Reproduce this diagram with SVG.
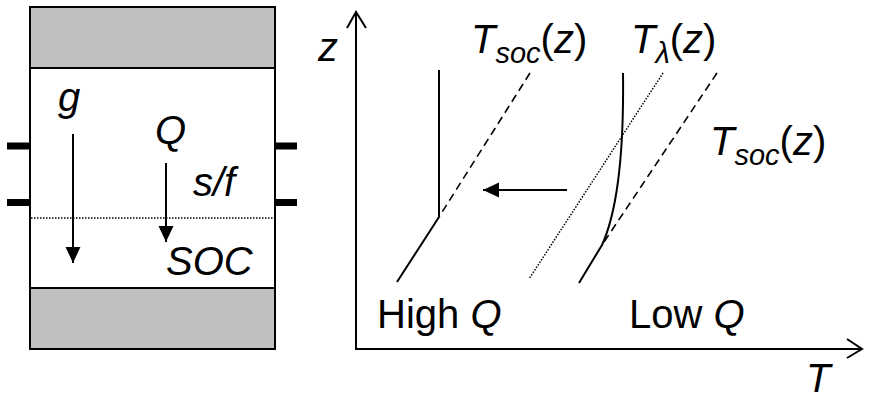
<svg xmlns="http://www.w3.org/2000/svg" width="869" height="401" viewBox="0 0 869 401">
<defs>
<style>
text{font-family:"Liberation Sans",Arial,sans-serif;font-size:40px;fill:#000}
.it{font-style:italic}
.sub{font-size:29px;font-style:italic}
.ln{stroke:#000;stroke-width:2;fill:none}
.dash{stroke:#000;stroke-width:1.6;fill:none;stroke-dasharray:8,5}
.dot{stroke:#000;stroke-width:1.5;fill:none;stroke-dasharray:1.5,1.5}
.band{fill:#c0c0c0;stroke:#000;stroke-width:2}
.tab{fill:#000}
</style>
<marker id="ah" markerWidth="16" markerHeight="16" viewBox="0 0 15 14" refX="15" refY="7" orient="auto" markerUnits="userSpaceOnUse">
<path d="M0,0 L15,7 L0,14 z" fill="#000"/>
</marker>
</defs>
<g id="box">
<rect x="30" y="7" width="245" height="342" fill="#fff" stroke="#000" stroke-width="2"/>
<rect class="band" x="30" y="7" width="245" height="61"/>
<rect class="band" x="30" y="288" width="245" height="61"/>
<rect class="tab" x="7" y="142.5" width="23" height="7"/>
<rect class="tab" x="7" y="199" width="23" height="7"/>
<rect class="tab" x="275" y="142.5" width="22" height="7"/>
<rect class="tab" x="275" y="199" width="22" height="7"/>
<line class="dot" x1="31" y1="218" x2="274" y2="218" stroke-width="1.2"/>
</g>
<g id="labels-box">
<text class="it" x="58" y="111">g</text>
<text class="it" x="155" y="144">Q</text>
<text class="it" x="193" y="196">s/f</text>
<text class="it" x="166" y="275">SOC</text>
</g>
<g id="axes">
<line class="ln" x1="356" y1="349" x2="356" y2="13"/>
<polyline class="ln" points="347,28 356,12 366,28"/>
<line class="ln" x1="355" y1="349" x2="861" y2="349"/>
<polyline class="ln" points="847,339 862,349 847,358"/>
<text class="it" x="318" y="61">z</text>
<text class="it" x="806" y="392">T</text>
</g>
<g id="curves">
<line class="dash" x1="530" y1="73" x2="439" y2="217"/>
<polyline class="ln" points="439,70 439,217 397,282"/>
<line class="dot" x1="663" y1="73" x2="529" y2="279"/>
<line class="dash" x1="717" y1="73" x2="602" y2="245"/>
<path class="ln" d="M623,73 C624,150 617,212 602,245 L579,283"/>
</g>
<g id="connectors">
<line class="ln" x1="73" y1="134" x2="73" y2="263" marker-end="url(#ah)"/>
<line class="ln" x1="166" y1="163" x2="166" y2="242" marker-end="url(#ah)"/>
<line class="ln" x1="567" y1="190" x2="483" y2="190" marker-end="url(#ah)"/>
</g>
<g id="labels-chart">
<text x="471" y="53"><tspan class="it">T</tspan><tspan class="sub" dy="10">soc</tspan><tspan dy="-10">(</tspan><tspan class="it">z</tspan><tspan>)</tspan></text>
<text x="631" y="53"><tspan class="it">T</tspan><tspan class="sub" dy="10">λ</tspan><tspan dy="-10">(</tspan><tspan class="it">z</tspan><tspan>)</tspan></text>
<text x="710" y="155"><tspan class="it">T</tspan><tspan class="sub" dy="10">soc</tspan><tspan dy="-10">(</tspan><tspan class="it">z</tspan><tspan>)</tspan></text>
<text x="377" y="328">High <tspan class="it">Q</tspan></text>
<text x="629" y="328">Low <tspan class="it">Q</tspan></text>
</g>
</svg>
